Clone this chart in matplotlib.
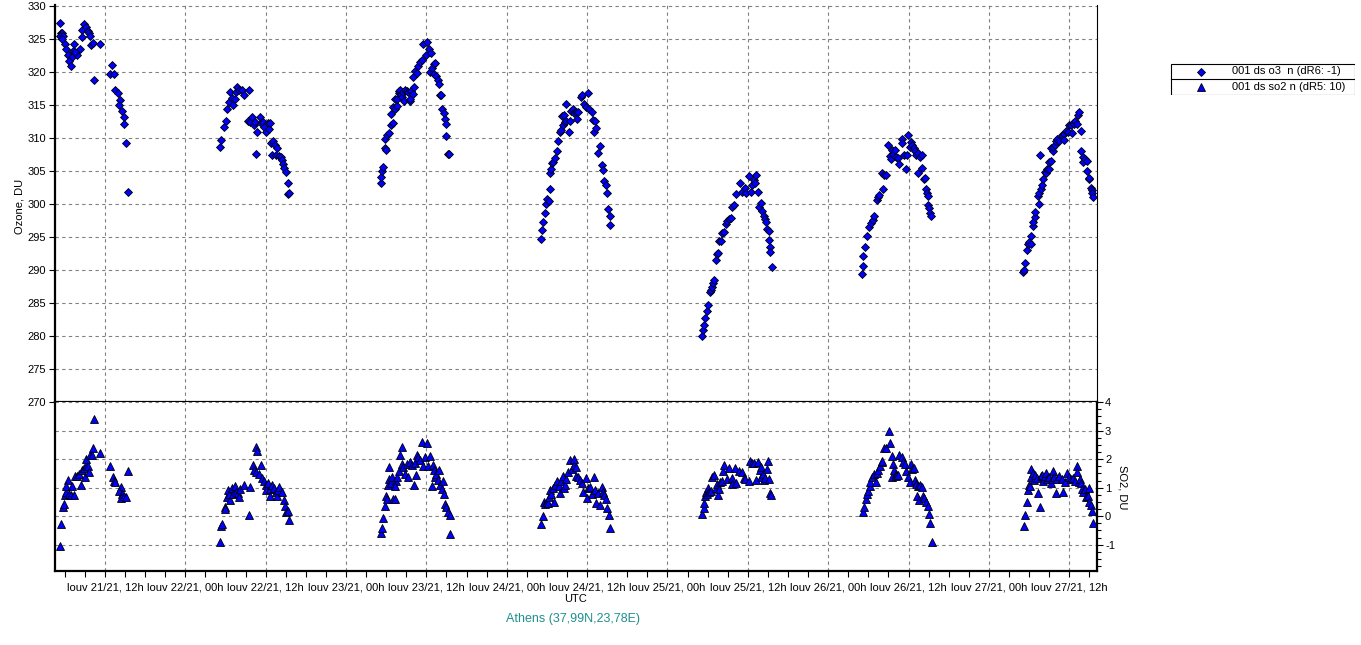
import matplotlib
matplotlib.use("Agg")
import matplotlib.pyplot as plt
from matplotlib.ticker import MultipleLocator, FuncFormatter
from matplotlib.patches import Rectangle

plt.rcParams['font.family'] = ['Liberation Sans', 'DejaVu Sans']
plt.rcParams['axes.unicode_minus'] = False

# hours since louv 21/21 00h UTC
o3_hours = [
    5.26, 5.36, 5.65, 5.26, 5.75, 5.55, 6.05, 6.25, 7.44, 8.23, 7.24, 6.55, 7.04, 7.84, 6.65, 6.94, 7.54,
    8.63, 8.93, 9.22, 9.42, 9.62, 9.82, 8.63, 9.92, 10.22, 11.31, 10.41, 13.09, 12.69, 13.39, 13.49, 13.98,
    14.28, 14.08, 14.48, 14.78, 14.78, 15.07, 15.37,
    29.15, 29.30, 29.75, 30.05, 30.24, 30.54, 30.74, 30.94, 31.14, 31.43, 31.63, 31.73, 32.03, 32.53, 32.72,
    33.52, 33.42, 33.72, 34.01, 34.21, 34.41, 34.71, 34.51, 35.10, 35.30, 35.60, 35.80, 36.00, 36.29, 36.49,
    36.69, 36.79, 37.09, 37.38, 37.68, 36.89, 37.58, 37.98, 38.28, 38.38, 38.57, 38.77, 38.97, 39.27, 39.37,
    39.47,
    53.16, 53.26, 53.36, 53.55, 53.75, 53.95, 53.85, 54.15, 54.35, 54.74, 54.94, 54.65, 54.94, 55.24, 55.24,
    55.54, 55.64, 55.84, 55.93, 56.13, 56.23, 56.33, 56.53, 56.63, 56.83, 57.03, 57.32, 57.52, 57.62, 57.72,
    58.02, 58.12, 58.02, 58.31, 58.61, 58.81, 59.11, 59.31, 59.50, 60.10, 60.00, 60.40, 60.69, 60.50, 60.89,
    61.09, 61.29, 61.19, 61.39, 61.69, 61.88, 61.98, 62.18, 62.38, 62.58, 62.78, 62.88, 62.97, 63.27, 63.37,
    77.06, 77.26, 77.45, 77.65, 77.85, 78.05, 78.25, 78.45, 78.45, 78.64, 78.74, 78.94, 79.24, 79.44, 79.64,
    79.93, 80.13, 80.43, 80.63, 80.23, 80.53, 80.83, 80.92, 81.22, 81.42, 81.62, 81.82, 82.01, 82.31, 82.51,
    82.71, 83.11, 83.20, 83.60, 84.10, 83.90, 84.30, 84.69, 84.89, 85.09, 85.19, 85.39, 85.88, 85.68, 86.18,
    86.38, 86.58, 86.77, 86.97, 87.17, 87.37, 87.47,
    101.19, 101.29, 101.49, 101.59, 101.89, 102.09, 102.29, 102.48, 102.58, 102.78, 102.98, 103.18, 103.38,
    103.58, 103.68, 103.98, 104.17, 104.47, 104.67, 104.87, 105.17, 105.47, 105.57, 105.96, 106.26, 106.76,
    107.16, 107.55, 107.75, 108.15, 108.45, 108.65, 108.85, 109.04, 109.24, 109.54, 109.74, 109.94, 110.14,
    110.43, 110.63, 110.73, 110.93, 111.13, 111.23, 111.33, 111.33, 111.63,
    125.12, 125.22, 125.22, 125.52, 125.81, 126.11, 126.41, 126.71, 126.81, 127.30, 127.40, 127.60, 128.20,
    128.00, 128.40, 128.70, 128.99, 129.19, 129.39, 129.49, 129.69, 129.99, 130.19, 130.48, 130.58, 130.98,
    131.08, 131.38, 131.58, 131.78, 131.98, 132.17, 132.37, 132.57, 132.77, 132.97, 133.17, 133.47, 133.66,
    133.96, 133.96, 133.37, 134.26, 134.46, 134.66, 134.76, 134.96, 134.86, 135.06, 135.26, 135.35,
    149.13, 149.23, 149.33, 149.63, 149.82, 150.02, 150.22, 150.32, 150.52, 150.62, 150.82, 150.82, 151.52,
    151.32, 151.52, 151.72, 151.92, 152.12, 152.41, 152.51, 152.71, 153.01, 152.91, 153.31, 153.31, 153.51,
    153.61, 153.81, 154.01, 154.11, 154.41, 154.90, 155.20, 155.20, 155.50, 155.80, 156.00, 156.20, 156.40,
    156.50, 156.70, 156.90, 157.10, 157.29, 157.39, 157.69, 157.79, 157.99, 158.09, 158.29, 158.59, 158.69,
    158.89, 158.99, 159.19, 159.39, 159.39, 159.59, 151.62,
]
o3_values = [
    327.3, 325.9, 325.9, 325.4, 325.4, 325.0, 324.2, 323.5, 324.2, 323.5, 323.2, 322.5, 322.2, 322.5, 321.6,
    320.9, 323.0, 326.3, 327.2, 326.8, 326.2, 325.8, 325.4, 325.2, 324.1, 324.3, 324.2, 318.8, 321.0, 319.6,
    319.6, 317.2, 316.8, 315.7, 314.9, 314.0, 313.1, 312.1, 309.2, 301.8,
    308.6, 309.7, 311.7, 312.5, 314.3, 315.4, 316.9, 316.0, 314.9, 315.9, 316.9, 317.7, 317.3, 317.3, 316.4,
    317.2, 312.6, 312.4, 313.1, 312.0, 312.4, 310.8, 307.5, 313.2, 312.2, 312.4, 311.6, 310.9, 312.2, 311.4,
    312.2, 309.2, 309.5, 308.9, 308.4, 307.4, 307.4, 307.3, 307.1, 306.6, 306.1, 305.4, 304.8, 303.2, 301.5,
    301.7,
    303.1, 304.1, 305.0, 305.6, 308.5, 308.1, 309.8, 310.4, 310.7, 312.0, 312.2, 313.6, 314.6, 314.4, 315.9,
    314.8, 315.9, 316.8, 317.1, 317.3, 316.5, 316.1, 316.9, 315.6, 317.3, 317.1, 316.9, 315.6, 315.9, 317.1,
    316.7, 317.7, 319.2, 320.1, 319.8, 320.8, 321.4, 321.7, 324.2, 324.5, 322.5, 323.5, 322.8, 319.9, 320.5,
    321.2, 321.3, 319.7, 319.3, 318.7, 318.2, 316.5, 316.5, 314.4, 313.8, 312.8, 312.1, 310.2, 307.6, 307.5,
    294.7, 296.0, 297.2, 298.6, 300.0, 300.7, 300.4, 302.2, 304.7, 305.2, 306.2, 306.4, 306.9, 308.0, 309.5,
    310.8, 311.2, 312.0, 312.4, 313.3, 313.5, 315.1, 312.5, 310.8, 312.5, 314.0, 314.3, 313.7, 313.9, 312.9,
    313.9, 316.2, 316.5, 315.1, 316.8, 314.6, 314.4, 313.9, 312.7, 310.8, 312.6, 311.5, 308.8, 307.7, 305.9,
    305.1, 303.4, 302.8, 301.6, 299.2, 298.1, 296.8,
    279.95, 280.96, 281.67, 282.68, 283.79, 284.70, 286.72, 286.92, 287.42, 288.03, 288.54, 291.46, 292.47,
    292.58, 294.39, 294.39, 295.51, 295.71, 297.02, 297.42, 297.63, 297.83, 299.55, 299.75, 301.46, 303.18,
    301.77, 302.37, 301.57, 304.19, 301.77, 302.78, 303.59, 303.08, 304.39, 301.77, 299.55, 300.15, 298.84,
    298.23, 297.73, 297.32, 296.21, 295.91, 294.49, 293.48, 292.78, 290.45,
    289.34, 290.56, 292.07, 293.48, 295.10, 296.52, 297.12, 297.53, 298.23, 300.56, 301.06, 301.36, 302.27,
    304.60, 304.39, 304.39, 308.84, 307.22, 306.72, 308.13, 307.53, 308.13, 307.12, 306.92, 306.01, 309.85,
    309.14, 307.42, 305.20, 307.42, 310.45, 308.54, 309.34, 308.94, 308.43, 307.93, 307.32, 307.73, 307.12,
    307.42, 305.40, 304.60, 303.69, 303.89, 302.27, 301.67, 301.26, 299.75, 299.34, 298.64, 298.13,
    289.65, 290.05, 291.06, 292.98, 293.89, 294.29, 293.99, 295.10, 296.62, 297.22, 298.03, 298.74, 300.05,
    301.26, 301.67, 302.27, 302.78, 303.79, 304.80, 304.60, 305.30, 305.20, 306.31, 306.52, 308.43, 307.93,
    308.64, 308.94, 309.44, 309.85, 309.44, 310.35, 310.56, 309.65, 311.06, 310.86, 311.97, 311.87, 310.76,
    312.27, 312.07, 312.58, 312.07, 313.48, 313.89, 310.96, 307.93, 307.12, 306.31, 306.82, 306.52, 305.00,
    303.79, 303.89, 302.47, 302.07, 301.57, 301.06, 307.42,
]

so2_hours = [
    5.26, 5.36, 5.75, 5.95, 6.05, 6.25, 6.45, 6.25, 6.65, 6.94, 7.14, 7.44, 7.54, 7.84, 8.13, 8.43, 8.53,
    8.83, 9.03, 9.12, 9.42, 9.62, 9.22, 9.82, 10.02, 10.22, 10.41, 11.31, 12.79, 13.19, 13.29, 13.49, 14.38,
    14.08, 14.58, 14.38, 14.88, 15.17, 15.37,
    29.15, 29.35, 29.45, 29.85, 29.94, 30.15, 30.44, 30.54, 30.74, 30.94, 31.14, 31.43, 31.63, 31.83, 32.03,
    32.23, 32.72, 33.52, 33.72, 34.11, 34.21, 34.51, 34.61, 34.71, 35.00, 35.30, 35.40, 35.70, 36.00, 36.00,
    36.29, 36.59, 36.69, 36.89, 37.19, 37.48, 37.68, 37.88, 37.98, 38.38, 38.67, 38.87, 39.07, 39.37, 39.47,
    53.26, 53.36, 53.46, 53.75, 53.95, 54.05, 54.25, 54.35, 54.45, 54.65, 54.84, 55.04, 55.34, 55.44, 55.24,
    55.64, 55.93, 56.13, 56.33, 56.33, 56.53, 56.83, 57.03, 57.32, 57.52, 57.82, 58.12, 58.31, 58.41, 58.61,
    58.81, 59.11, 59.31, 59.50, 59.80, 60.10, 60.30, 60.59, 60.79, 60.99, 61.19, 61.29, 61.49, 61.69, 61.88,
    62.08, 62.28, 62.48, 62.58, 62.78, 62.97, 63.27, 63.47, 63.47,
    77.16, 77.35, 77.55, 77.75, 77.95, 78.15, 78.35, 78.45, 78.64, 78.84, 79.04, 79.24, 79.54, 79.73, 79.93,
    80.13, 80.33, 80.53, 80.73, 80.92, 81.12, 81.42, 81.72, 82.01, 82.11, 82.31, 82.41, 82.71, 83.01, 83.30,
    83.40, 83.80, 84.00, 84.20, 84.49, 84.79, 84.99, 85.19, 85.39, 85.68, 85.98, 86.18, 86.38, 86.58, 86.77,
    86.97, 87.27, 87.47,
    101.19, 101.39, 101.49, 101.59, 101.79, 101.99, 101.89, 102.19, 102.48, 102.68, 102.88, 103.18, 103.38,
    103.58, 103.68, 103.88, 104.07, 104.27, 104.47, 104.87, 105.17, 105.57, 105.66, 106.06, 106.26, 106.66,
    107.16, 107.45, 107.65, 108.15, 108.35, 108.65, 108.94, 109.24, 109.54, 109.84, 110.04, 110.04, 110.24,
    110.43, 110.63, 110.83, 111.03, 111.13, 111.33, 111.53,
    125.22, 125.32, 125.71, 125.81, 126.01, 126.21, 126.31, 126.61, 126.81, 127.20, 127.30, 127.50, 127.70,
    128.00, 128.10, 128.40, 128.70, 129.09, 129.29, 129.49, 129.59, 129.69, 129.89, 130.09, 130.19, 130.39,
    130.58, 130.98, 131.18, 131.48, 131.68, 131.98, 132.17, 132.37, 132.57, 132.77, 132.97, 133.17, 133.27,
    133.47, 133.57, 133.76, 134.06, 134.16, 134.36, 134.66, 134.86, 135.06, 135.26, 135.45,
    149.23, 149.33, 149.73, 149.82, 149.92, 150.12, 150.22, 150.32, 150.52, 150.72, 150.92, 151.12, 151.32,
    151.62, 151.72, 151.92, 152.12, 152.31, 152.51, 152.71, 153.01, 153.21, 153.41, 153.51, 153.71, 154.01,
    154.21, 154.51, 154.90, 155.10, 155.30, 155.60, 155.90, 156.20, 156.50, 156.80, 157.10, 157.20, 157.39,
    157.59, 157.79, 157.89, 158.09, 158.29, 158.49, 158.79, 158.89, 158.99, 159.19, 159.39, 159.59,
]
so2_values = [
    -1.04, -0.28, 0.33, 0.41, 0.73, 0.86, 1.27, 1.06, 0.76, 0.73, 1.06, 0.73, 1.42, 1.42, 1.49, 1.09, 1.62,
    1.70, 1.39, 1.75, 1.75, 1.54, 2.00, 2.13, 2.15, 2.38, 3.42, 2.23, 1.77, 1.39, 1.24, 1.19, 1.01, 0.89,
    0.78, 0.63, 0.71, 0.68, 1.59,
    -0.89, -0.35, -0.28, 0.33, 0.25, 0.66, 0.91, 0.78, 0.58, 0.99, 0.78, 1.06, 0.86, 0.81, 0.68, 0.94, 1.11,
    0.05, 1.01, 1.80, 1.62, 1.54, 2.41, 2.30, 1.49, 1.80, 1.34, 1.22, 1.11, 0.91, 1.16, 0.94, 0.71, 1.11,
    0.99, 0.86, 0.71, 0.91, 1.04, 0.86, 0.58, 0.35, 0.15, 0.18, -0.15,
    -0.58, -0.43, -0.08, 0.35, 0.71, 0.61, 1.09, 1.29, 1.72, 1.16, 1.37, 0.61, 0.61, 1.24, 1.06, 1.37, 1.59,
    2.15, 2.41, 1.82, 1.72, 1.49, 1.82, 1.37, 1.90, 1.80, 1.11, 1.85, 1.44, 2.13, 2.08, 1.97, 2.61, 1.75,
    2.08, 2.58, 1.75, 2.10, 1.06, 1.80, 1.62, 1.39, 1.49, 1.27, 1.62, 1.11, 0.96, 1.24, 0.78, 0.43, 0.33,
    0.15, 0.05, -0.63,
    -0.28, 0.00, 0.51, 0.43, 0.51, 0.46, 0.66, 0.91, 0.78, 0.99, 0.51, 1.11, 1.22, 1.06, 0.81, 1.24, 1.42,
    0.99, 1.11, 1.29, 1.54, 1.97, 1.67, 1.80, 2.00, 1.72, 1.42, 1.37, 1.27, 1.16, 0.84, 1.34, 0.63, 0.99,
    1.01, 0.78, 1.37, 0.91, 0.46, 0.81, 0.38, 1.04, 0.86, 0.73, 0.61, 0.30, 0.05, -0.43,
    0.09, 0.30, 0.46, 0.70, 0.86, 0.98, 0.79, 0.86, 0.88, 1.37, 1.44, 0.98, 1.14, 0.74, 0.95, 1.21, 1.23,
    1.58, 1.79, 1.30, 1.70, 1.35, 1.14, 1.70, 1.16, 1.58, 1.54, 1.35, 1.30, 1.23, 1.93, 1.86, 1.86, 1.26,
    1.91, 1.61, 1.72, 1.37, 1.49, 1.26, 1.33, 1.65, 1.93, 1.30, 0.81, 0.74,
    0.16, 0.32, 0.60, 0.77, 0.88, 1.07, 1.21, 1.37, 1.49, 1.21, 1.51, 1.63, 1.77, 1.89, 1.93, 2.38, 2.38,
    2.98, 2.56, 1.37, 2.12, 1.84, 1.63, 1.49, 1.40, 1.44, 2.16, 2.07, 1.89, 1.84, 1.58, 1.37, 1.21, 1.84,
    1.65, 1.68, 1.28, 1.14, 0.72, 1.05, 0.58, 1.09, 1.02, 0.72, 0.63, 0.51, 0.37, 0.09, -0.24, -0.91,
    -0.36, 0.04, 0.50, 0.92, 1.09, 1.06, 1.39, 1.67, 1.51, 1.27, 1.44, 1.35, 0.81, 0.32, 1.42, 1.44, 1.25,
    1.42, 1.51, 1.32, 1.37, 1.18, 1.30, 1.60, 1.39, 0.81, 1.30, 1.42, 1.32, 0.85, 1.20, 1.51, 1.39, 1.30,
    1.35, 1.25, 1.77, 1.56, 1.20, 1.32, 1.16, 0.95, 0.85, 0.95, 0.67, 0.69, 0.97, 0.50, 0.39, 0.18, -0.25,
]

o3_label = "001 ds o3  n (dR6: -1)"
so2_label = "001 ds so2 n (dR5: 10)"

W, H = 1361, 645
fig = plt.figure(figsize=(W / 100, H / 100), dpi=100)
fig.patch.set_facecolor('white')

left, right = 54.5 / W, 1096.7 / W
ax1 = fig.add_axes([left, 1 - 402 / H, right - left, (402 - 5) / H])
ax2 = fig.add_axes([left, 1 - 571 / H, right - left, (571 - 402) / H], sharex=ax1)

grid_kw = dict(color='#808080', linestyle=(0, (3, 3)), linewidth=0.8)
o3_style = dict(linestyle='none', marker='D', markersize=3.8, markerfacecolor='#0000ff',
                markeredgecolor='black', markeredgewidth=0.6)
so2_style = dict(linestyle='none', marker='^', markersize=5.4, markerfacecolor='#0000ff',
                 markeredgecolor='black', markeredgewidth=0.6)


def fmt_time(h, pos):
    day = 21 + int(h // 24)
    hh = int(round(h % 24))
    return f"louv {day}/21, {hh:02d}h"


# ozone panel
ax1.plot(o3_hours, o3_values, zorder=3, **o3_style)
ax1.set_ylim(270, 330.1)
ax1.set_xlim(4.46, 160.1)
ax1.yaxis.set_major_locator(MultipleLocator(5))
ax1.xaxis.set_major_locator(MultipleLocator(12))
ax1.xaxis.set_minor_locator(MultipleLocator(3))
ax1.grid(True, which='major', **grid_kw)
ax1.tick_params(axis='x', which='both', length=0, labelbottom=False)
ax1.tick_params(axis='y', which='major', direction='out', length=4, width=0.8, labelsize=8, pad=2)
ax1.spines['top'].set_visible(False)
ax1.spines['left'].set_linewidth(1.6)
ax1.spines['bottom'].set_linewidth(1.6)
ax1.spines['right'].set_linewidth(0.8)

# SO2 panel
ax2.plot(so2_hours, so2_values, zorder=3, **so2_style)
ax2.set_ylim(-1.92, 4)
ax2.yaxis.tick_right()
ax2.yaxis.set_major_locator(MultipleLocator(1))
ax2.yaxis.set_minor_locator(MultipleLocator(0.25))
ax2.xaxis.set_major_formatter(FuncFormatter(fmt_time))
ax2.grid(True, which='major', **grid_kw)
ax2.tick_params(axis='y', which='major', direction='out', length=4, width=0.8, labelsize=8, pad=2)
ax2.tick_params(axis='y', which='minor', direction='out', length=3, width=0.8)
ax2.tick_params(axis='x', which='major', direction='out', length=4, width=0.8, labelsize=8, pad=4)
ax2.tick_params(axis='x', which='minor', direction='out', length=4, width=0.8)
ax2.spines['top'].set_visible(False)
for s in ('left', 'right', 'bottom'):
    ax2.spines[s].set_linewidth(1.6)

fig.text(20 / W, 1 - 206 / H, "Ozone, DU", rotation=90, ha='center', va='center', fontsize=8)
fig.text(1123 / W, 1 - 487 / H, "SO2, DU", rotation=270, ha='center', va='center', fontsize=8)
fig.text(576 / W, 1 - 599 / H, "UTC", ha='center', va='center', fontsize=8)
fig.text(573 / W, 1 - 619 / H, "Athens (37,99N,23,78E)", ha='center', va='center',
         fontsize=9, color='#1f8f8f')

# legend box
lg = fig.add_axes([1170 / W, 1 - 95 / H, 185 / W, 32 / H])
lg.set_xlim(0, 185)
lg.set_ylim(32, 0)
lg.axis('off')
lg.add_patch(Rectangle((0.5, 0.5), 184, 31, fill=False, edgecolor='black', linewidth=0.8))
lg.plot([0.5, 184.5], [16, 16], color='black', linewidth=0.8)
lg.plot([31], [8.5], **o3_style)
lg.plot([31], [24], **so2_style)
lg.text(62, 8.5, o3_label, ha='left', va='center', fontsize=8)
lg.text(62, 24, so2_label, ha='left', va='center', fontsize=8)

fig.savefig("out.png", dpi=100)
